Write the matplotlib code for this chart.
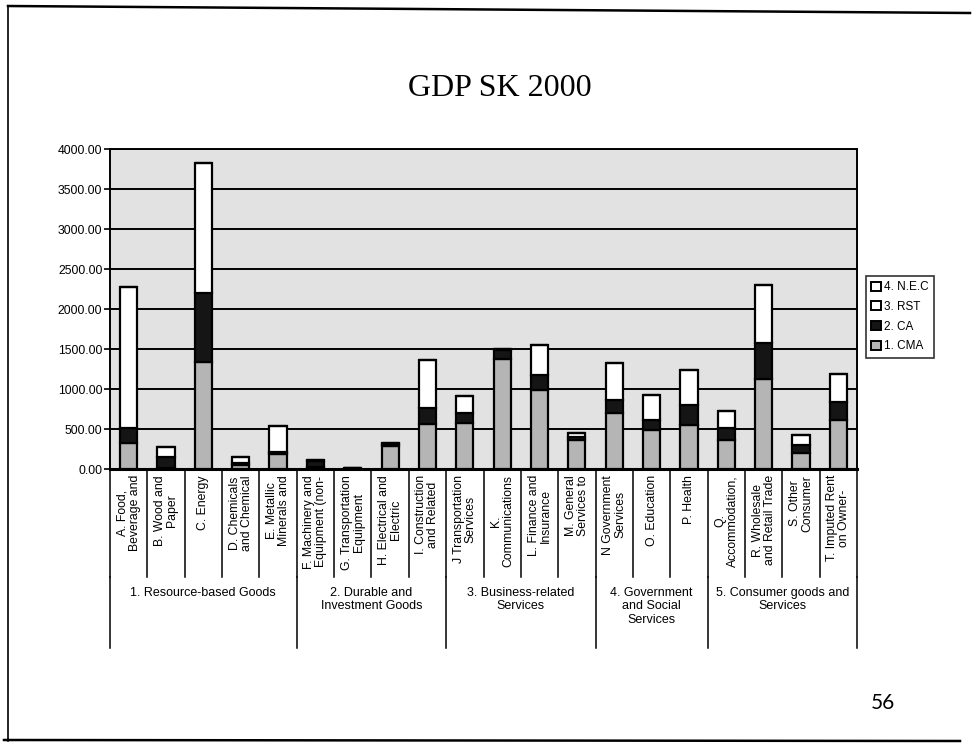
import matplotlib
matplotlib.use('Agg')
import matplotlib.pyplot as plt
import numpy as np
from matplotlib.lines import Line2D
from matplotlib.patches import Patch

plt.rcParams['font.family'] = ['Liberation Sans', 'DejaVu Sans']

categories = [
    "A. Food,\nBeverage and", "B. Wood and\nPaper", "C. Energy",
    "D. Chemicals\nand Chemical", "E. Metallic\nMinerals and",
    "F. Machinery and\nEquipment (non-", "G. Transportation\nEquipment",
    "H. Electrical and\nElectric", "I. Construction\nand Related",
    "J Transportation\nServices", "K.\nCommunications",
    "L. Finance and\nInsurance", "M. General\nServices to",
    "N Government\nServices", "O. Education", "P. Health",
    "Q.\nAccommodation,", "R. Wholesale\nand Retail Trade",
    "S. Other\nConsumer", "T. Imputed Rent\non Owner-",
]
groups = ["1. Resource-based Goods", "2. Durable and\nInvestment Goods",
          "3. Business-related\nServices", "4. Government\nand Social\nServices",
          "5. Consumer goods and\nServices"]
group_sizes = [5, 4, 4, 3, 4]

cma = [330, 10, 1340, 50, 190, 20, 0, 290, 560, 580, 1380, 990, 360, 700, 490, 550, 360, 1130, 195, 610]
ca = [180, 136, 855, 25, 20, 80, 15, 25, 200, 115, 110, 185, 45, 165, 125, 250, 150, 440, 105, 230]
rst = [1770, 125, 1630, 80, 330, 10, 2, 15, 600, 215, 5, 375, 40, 465, 310, 440, 210, 730, 125, 350]
nec = [0] * 20
series_names = ["1. CMA", "2. CA", "3. RST", "4. N.E.C"]
yticks = [0, 500, 1000, 1500, 2000, 2500, 3000, 3500, 4000]

W, H = 973, 747
fig = plt.figure(figsize=(W / 100, H / 100), dpi=100)
fig.patch.set_facecolor('white')

# slide frame
fig.add_artist(Line2D([8 / W, 8 / W], [1 - 7 / H, 1 - 741 / H], color='black', lw=1.2))
fig.add_artist(Line2D([8 / W, 970 / W], [1 - 6 / H, 1 - 13 / H], color='black', lw=1.8))
fig.add_artist(Line2D([4 / W, 960 / W], [1 - 740 / H, 1 - 741 / H], color='black', lw=1.8))

left, right, top, bottom = 110, 857, 149, 469
ax = fig.add_axes([left / W, 1 - bottom / H, (right - left) / W, (bottom - top) / H])
ax.set_facecolor('#e2e2e2')

x = np.arange(len(categories)) + 0.5
colors = ['#b5b5b5', '#151515', 'white', 'white']
vals = [cma, ca, rst, nec]
base = np.zeros(len(categories))
handles = []
for name, v, c in zip(series_names, vals, colors):
    v = np.array(v, dtype=float)
    ax.bar(x, v, 0.46, bottom=base, color=c, edgecolor='black', linewidth=1.6, zorder=3)
    base = base + v
    handles.append(Patch(facecolor=c, edgecolor='black', linewidth=1.4, label=name))

ax.set_xlim(0, len(categories))
ax.set_ylim(0, 4000)
ax.set_yticks(yticks)
ax.set_yticklabels([f"{t:.2f}" for t in yticks], fontsize=8.8)
ax.yaxis.grid(True, color='black', linewidth=1.4, zorder=1)
ax.set_axisbelow(True)
ax.tick_params(axis='y', length=4, width=1.2, pad=1.5)
ax.set_xticks([])
for s in ['left', 'bottom', 'top', 'right']:
    ax.spines[s].set_linewidth(1.4)
ax.spines['bottom'].set_linewidth(2.2)

tr = ax.get_xaxis_transform()
px = 1.0 / (bottom - top)
cell_end = -(577 - bottom) * px
group_end = -(648 - bottom) * px

# category separators and labels
for i in range(len(categories) + 1):
    ax.plot([i, i], [0, cell_end], transform=tr, color='black', lw=1.1, clip_on=False)
for xi, lab in zip(x, categories):
    ax.text(xi, -6 * px, lab, transform=tr, rotation=90, ha='center', va='top',
            multialignment='center', fontsize=8.8, linespacing=1.0)

# group separators and labels
edges = np.concatenate([[0], np.cumsum(group_sizes)])
for e in edges:
    ax.plot([e, e], [cell_end, group_end], transform=tr, color='black', lw=1.1, clip_on=False)
for g, a, b in zip(groups, edges[:-1], edges[1:]):
    ax.text((a + b) / 2, -(587 - bottom) * px, g, transform=tr, ha='center', va='top',
            multialignment='center', fontsize=9, linespacing=1.15)

# legend
leg = fig.legend(handles=handles[::-1], loc='upper left',
                 bbox_to_anchor=(866 / W, 1 - 276 / H), fontsize=8.5,
                 frameon=True, fancybox=False, edgecolor='black',
                 handlelength=0.8, handleheight=0.8, handletextpad=0.3,
                 borderpad=0.45, labelspacing=0.65, borderaxespad=0)
leg.get_frame().set_linewidth(1.2)

fig.text(500 / W, 1 - 88 / H, "GDP SK 2000", ha='center', va='center',
         fontsize=23, family='Liberation Serif')
fig.text(883 / W, 1 - 703 / H, "56", ha='center', va='center',
         fontsize=15, family='Lato')

fig.savefig('out.png', dpi=100, facecolor='white')
